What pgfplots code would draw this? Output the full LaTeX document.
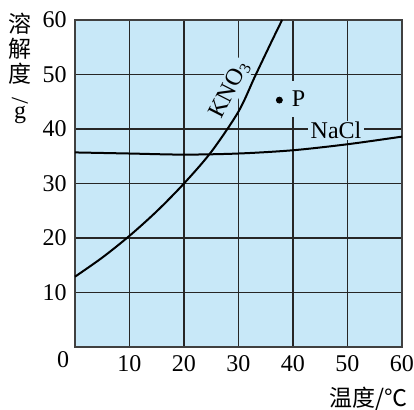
\documentclass[border=0pt]{standalone}
\usepackage{fontspec}
\setmainfont{Liberation Serif}
\newfontfamily\cjk{Noto Sans CJK SC}
\usepackage{pgfplots}
\pgfplotsset{compat=1.18}
\definecolor{bgblue}{RGB}{200,232,248}

\begin{document}
\fontsize{12}{14}\selectfont
\begin{tikzpicture}
\useasboundingbox (-37.5pt,-31.5pt) rectangle (169.5pt,173.5pt);
\begin{axis}[
  at={(0,0)}, anchor=south west,
  scale only axis, width=163.5pt, height=163.5pt,
  xmin=0, xmax=60, ymin=0, ymax=60,
  xtick={10,20,...,60}, ytick={10,20,...,60},
  grid=major, major grid style={black!85, line width=0.9pt},
  axis line style={black!75, line width=0.7pt},
  axis background/.style={fill=bgblue},
  tick style={draw=none},
  /pgf/number format/assume math mode=true,
  tick label style={font=\fontsize{12}{14}\selectfont},
  clip=false,
]
% labels with background fill (make gaps in grid lines)
\node[fill=bgblue, inner xsep=1pt, inner ysep=1pt, rotate=63, font=\fontsize{12}{14}\selectfont]
  at (axis cs:28.4,47.2) {KNO\textsubscript{3}};
\node[fill=bgblue, inner xsep=1.5pt, inner ysep=5pt, font=\fontsize{12}{14}\selectfont]
  at (axis cs:41.0,45.5) {P};
\node[fill=bgblue, inner xsep=1.5pt, inner ysep=0.5pt, font=\fontsize{12}{14}\selectfont]
  at (axis cs:47.9,39.8) {NaCl};
% KNO3
\addplot[black, line width=1pt, smooth] coordinates {
  (0,12.9) (5,16.4) (10,20.4) (15,24.9) (20,30.0) (25,35.8) (30,43.2) (33,49.6) (36,55.9) (38,60)
};
% NaCl
\addplot[black, line width=1pt, smooth] coordinates {
  (0,35.7) (10,35.5) (20,35.3) (30,35.5) (40,36.1) (50,37.2) (60,38.6)
};
% point P
\addplot[only marks, mark=*, mark size=1.5pt, black] coordinates {(37.5,45.3)};
% corner zero
\node[inner sep=0pt, font=\fontsize{12}{14}\selectfont] at ([xshift=-6pt, yshift=-6.5pt]axis cs:0,0) {0};
% y label (vertical, stacked)
\node[inner sep=0pt, font=\cjk\fontsize{11.5}{12.5}\selectfont] at ([xshift=-27.5pt, yshift=-2pt]rel axis cs:0,1) {溶};
\node[inner sep=0pt, font=\cjk\fontsize{11.5}{12.5}\selectfont] at ([xshift=-27.5pt, yshift=-14.5pt]rel axis cs:0,1) {解};
\node[inner sep=0pt, font=\cjk\fontsize{11.5}{12.5}\selectfont] at ([xshift=-27.5pt, yshift=-27pt]rel axis cs:0,1) {度};
\node[inner sep=0pt, rotate=-90, font=\fontsize{12}{14}\selectfont] at ([xshift=-27.5pt, yshift=-40.5pt]rel axis cs:0,1) {/};
\node[inner sep=0pt, anchor=base, font=\fontsize{12}{14}\selectfont] at ([xshift=-27.5pt, yshift=-49.5pt]rel axis cs:0,1) {g};
% x label
\node[inner sep=0pt, font=\cjk\fontsize{11.5}{13}\selectfont]
  at ([yshift=-26pt]rel axis cs:0.899,0) {温度/℃};
\end{axis}
\end{tikzpicture}
\end{document}
